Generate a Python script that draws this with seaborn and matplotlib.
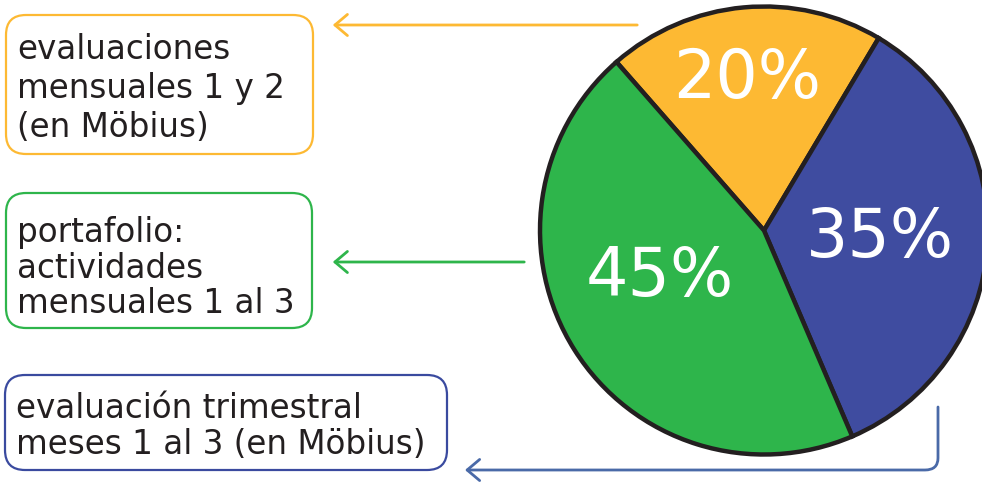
import matplotlib
matplotlib.use("Agg")
import matplotlib.pyplot as plt
import seaborn as sns
import numpy as np
from matplotlib.patches import FancyBboxPatch, FancyArrowPatch
from matplotlib.path import Path

# data
categorias = ["evaluaciones mensuales 1 y 2 (en Möbius)",
              "evaluación trimestral meses 1 al 3 (en Möbius)",
              "portafolio: actividades mensuales 1 al 3"]
porcentajes = [20, 35, 45]
colores = ["#FDB933", "#3F4CA0", "#2EB54B"]

# box texts (line by line)
lineas_amarillo = ["evaluaciones", "mensuales 1 y 2", "(en Möbius)"]
lineas_verde = ["portafolio:", "actividades", "mensuales 1 al 3"]
lineas_azul = ["evaluación trimestral", "meses 1 al 3 (en Möbius)"]

sns.set_theme(style="white")
plt.rcParams['font.family'] = ['DejaVu Sans']

W, H = 982, 483
fig = plt.figure(figsize=(W / 100, H / 100), dpi=100)
fig.patch.set_facecolor("white")

# pie axes, placed in pixel terms
ax = fig.add_axes([538 / W, (H - 457) / H, 452 / W, 453 / H])
wedges, texts, autotexts = ax.pie(
    porcentajes, colors=colores, startangle=131.2, counterclock=False,
    autopct="%d%%", pctdistance=0.6,
    wedgeprops=dict(edgecolor="#231F20", linewidth=3.2),
    textprops=dict(color="white", fontsize=48))
lim = 226 / 224
ax.set_xlim(-lim, lim)
ax.set_ylim(-lim, lim)
ax.set_aspect("equal")

# move the percentage labels a bit (per-slice distance / angle shift)
dist = [0.68, 0.52, 0.51]
shift = [1, 0, -8]
for w, t, d, s in zip(wedges, autotexts, dist, shift):
    ang = np.deg2rad((w.theta1 + w.theta2) / 2 + s)
    t.set_position((d * np.cos(ang), d * np.sin(ang)))
    t.set_ha("center")
    t.set_va("center")

# overlay axes in pixel coordinates
ov = fig.add_axes([0, 0, 1, 1])
ov.set_xlim(0, W)
ov.set_ylim(H, 0)
ov.axis("off")

borde_azul = "#3A4A9F"
flecha_azul = "#4A6AA8"

cajas = [
    ((6, 15, 307, 139), colores[0], lineas_amarillo, [59, 98, 137]),
    ((6, 193, 306, 135), colores[2], lineas_verde, [242, 278, 313]),
    ((5, 375, 442, 95), borde_azul, lineas_azul, [418, 454]),
]
for (x, y, w, h), c, lineas, bases in cajas:
    ov.add_patch(FancyBboxPatch((x, y), w, h,
                                boxstyle="round,pad=0,rounding_size=20",
                                facecolor="white", edgecolor=c, linewidth=1.6))
    for ln, b in zip(lineas, bases):
        ov.text(x + 11, b, ln, fontsize=23.5, color="#231F20",
                ha="left", va="baseline")

estilo = "->,head_length=0.45,head_width=0.38"
ov.add_patch(FancyArrowPatch((640, 25), (330, 25), arrowstyle=estilo,
                             mutation_scale=20, color=colores[0], lw=2))
ov.add_patch(FancyArrowPatch((527, 262), (330, 262), arrowstyle=estilo,
                             mutation_scale=20, color=colores[2], lw=2))
camino = Path([(938, 407), (938, 458), (938, 470), (925, 470), (465, 470)],
              [Path.MOVETO, Path.LINETO, Path.CURVE3, Path.CURVE3, Path.LINETO])
ov.add_patch(FancyArrowPatch(path=camino, arrowstyle=estilo,
                             mutation_scale=20, color=flecha_azul, lw=2))

fig.savefig("out.png", dpi=100, facecolor="white")
